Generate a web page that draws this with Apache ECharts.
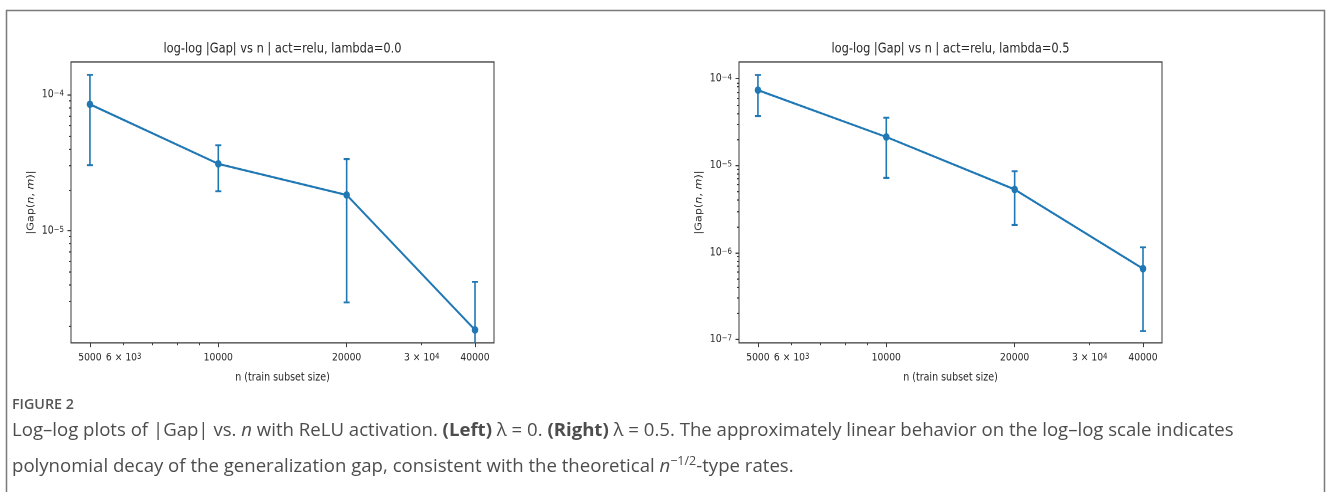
<!DOCTYPE html>
<html><head><meta charset="utf-8">
<script src="https://cdn.jsdelivr.net/npm/echarts@6/dist/echarts.min.js"></script>
<style>
html,body{margin:0;padding:0;background:#fff}
#wrap{position:relative;width:1331px;height:492px;overflow:hidden}
#cap{position:absolute;left:0;top:0;width:1331px;height:492px;z-index:1}
#plots{position:absolute;left:0;top:0;width:1331px;height:333px;z-index:2;transform:scaleY(1.18);transform-origin:0 0}
</style>
</head><body><div id="wrap"><div id="cap"></div><div id="plots"></div></div>
<script>
// ---- data ----
const nValues = [5000, 10000, 20000, 40000];
const leftMean  = [8.5e-5, 3.1e-5, 1.83e-5, 1.86e-6];
const leftUpper = [1.40e-4, 4.25e-5, 3.36e-5, 4.2e-6];
const leftLower = [3.03e-5, 1.95e-5, 2.96e-6, null]; // null: extends below the axis
const rightMean  = [7.36e-5, 2.13e-5, 5.31e-6, 6.52e-7];
const rightUpper = [1.10e-4, 3.55e-5, 8.6e-6, 1.15e-6];
const rightLower = [3.71e-5, 7.23e-6, 2.07e-6, 1.25e-7];

// ---- ticks and labels ----
const xMajorTicks = [5000, 10000, 20000, 40000];
const xMinorTicks = [6000, 7000, 8000, 9000, 30000];
const xLabelValues = [5000, 6000, 10000, 20000, 30000, 40000];
const xLabelTexts  = ['5000', '6 × 10{s|3}', '10000', '20000', '3 × 10{s|4}', '40000'];
const leftYMajor  = [1e-5, 1e-4];
const leftYLabels = ['10{s|−5}', '10{s|−4}'];
const rightYMajor  = [1e-7, 1e-6, 1e-5, 1e-4];
const rightYLabels = ['10{s|−7}', '10{s|−6}', '10{s|−5}', '10{s|−4}'];
const leftYMinor = [2e-6,3e-6,4e-6,5e-6,6e-6,7e-6,8e-6,9e-6,2e-5,3e-5,4e-5,5e-5,6e-5,7e-5,8e-5,9e-5];
const rightYMinor = [2e-7,3e-7,4e-7,5e-7,6e-7,7e-7,8e-7,9e-7,2e-6,3e-6,4e-6,5e-6,6e-6,7e-6,8e-6,9e-6,2e-5,3e-5,4e-5,5e-5,6e-5,7e-5,8e-5,9e-5];

const titles = ['log-log |Gap| vs n | act=relu, lambda=0.0', 'log-log |Gap| vs n | act=relu, lambda=0.5'];
const xName = 'n (train subset size)';
const yName = '|Gap({i|n}, {i|m})|';
const figLabel = 'FIGURE 2';
const captionLines = [
  'Log–log plots of |Gap| vs. {i|n} with ReLU activation. {b|(Left)} λ = 0. {b|(Right)} λ = 0.5. The approximately linear behavior on the log–log scale indicates',
  'polynomial decay of the generalization gap, consistent with the theoretical {i|n}{sup|−1/2}-type rates.'
];

const xMin = 4514, xMax = 44320;
const leftYMin = 1.49e-6, leftYMax = 1.74e-4;
const rightYMin = 9.1e-8, rightYMax = 1.55e-4;

const S = 1.18; // vertical stretch of the figure image
const C = '#1f77b4';
const TXT = '#262626';
const AX = '#3a3a3a';
const FONT = 'DejaVu Sans';

function xLabelFmt(v) {
  const i = xLabelValues.findIndex(t => Math.abs(t - v) / t < 1e-6);
  return i >= 0 ? xLabelTexts[i] : '';
}
function yLabelFmt(major, labels) {
  return function (v) {
    const i = major.findIndex(t => Math.abs(Math.log10(t) - Math.log10(v)) < 1e-6);
    return i >= 0 ? labels[i] : '';
  };
}
const supRich = {s: {fontSize: 7, fontFamily: FONT, color: TXT, verticalAlign: 'top', lineHeight: 7}};

const gridTop = 62 / S, gridH = 281 / S;
const grids = [
  {left: 71, top: gridTop, width: 423, height: gridH},
  {left: 739, top: gridTop, width: 423, height: gridH}
].map(g => Object.assign(g, {show: true, borderColor: AX, borderWidth: 1, backgroundColor: 'transparent'}));

function xAxes(gi) {
  return [
    {type: 'log', logBase: 10, gridIndex: gi, position: 'bottom', min: xMin, max: xMax,
     name: xName, nameLocation: 'middle', nameGap: 24.5,
     nameTextStyle: {fontSize: 9.5, color: TXT, fontFamily: FONT},
     axisLine: {show: false}, splitLine: {show: false},
     axisTick: {show: true, length: 3.5, lineStyle: {color: AX}, customValues: xMajorTicks},
     axisLabel: {show: true, fontSize: 9.2, color: TXT, fontFamily: FONT, margin: 8, customValues: xLabelValues, formatter: xLabelFmt, rich: supRich}},
    {type: 'log', logBase: 10, gridIndex: gi, position: 'bottom', offset: 0, min: xMin, max: xMax,
     axisLine: {show: false}, splitLine: {show: false},
     axisTick: {show: true, length: 2, lineStyle: {color: AX}, customValues: xMinorTicks},
     axisLabel: {show: false}}
  ];
}
function yAxes(gi, mn, mx, major, labels, minor) {
  return [
    {type: 'log', logBase: 10, gridIndex: gi, position: 'left', min: mn, max: mx,
     name: yName, nameLocation: 'middle', nameGap: 35, nameRotate: 90,
     nameTextStyle: {fontSize: 9.5, color: TXT, fontFamily: FONT, rich: {i: {fontStyle: 'italic', fontSize: 9.5, color: TXT, fontFamily: FONT}}},
     axisLine: {show: false}, splitLine: {show: false},
     axisTick: {show: true, length: 3.5, lineStyle: {color: AX}, customValues: major},
     axisLabel: {show: true, fontSize: 9.4, color: TXT, fontFamily: FONT, margin: 7, customValues: major, formatter: yLabelFmt(major, labels), rich: supRich}},
    {type: 'log', logBase: 10, gridIndex: gi, position: 'left', offset: 0, min: mn, max: mx,
     axisLine: {show: false}, splitLine: {show: false},
     axisTick: {show: true, length: 2, lineStyle: {color: AX}, customValues: minor},
     axisLabel: {show: false}}
  ];
}

function errSeries(gi, upper, lower) {
  return {
    type: 'custom', coordinateSystem: 'cartesian2d', xAxisIndex: gi * 2, yAxisIndex: gi * 2, z: 2, clip: true,
    data: nValues.map((n, i) => [n, upper[i]]),
    encode: {x: 0, y: 1},
    renderItem: function (params, api) {
      const i = params.dataIndex;
      const top = api.coord([api.value(0), api.value(1)]);
      const cs = params.coordSys;
      let botY, botCap = true;
      if (lower[i] == null) { botY = cs.y + cs.height; botCap = false; }
      else { botY = api.coord([api.value(0), lower[i]])[1]; }
      const w = 3, st = {stroke: C, lineWidth: 1.6};
      const ch = [
        {type: 'line', shape: {x1: top[0], y1: top[1], x2: top[0], y2: botY}, style: st},
        {type: 'line', shape: {x1: top[0] - w, y1: top[1], x2: top[0] + w, y2: top[1]}, style: st}
      ];
      if (botCap) ch.push({type: 'line', shape: {x1: top[0] - w, y1: botY, x2: top[0] + w, y2: botY}, style: st});
      return {type: 'group', children: ch};
    }
  };
}
function lineSeries(gi, mean) {
  return {
    type: 'line', xAxisIndex: gi * 2, yAxisIndex: gi * 2, z: 3,
    data: nValues.map((n, i) => [n, mean[i]]),
    symbol: 'circle', symbolSize: 6.5, showAllSymbol: true,
    lineStyle: {color: C, width: 1.8}, itemStyle: {color: C}
  };
}

const plots = echarts.init(document.getElementById('plots'), null, {renderer: 'canvas', devicePixelRatio: 2});
plots.setOption({
  animation: false,
  textStyle: {fontFamily: FONT},
  grid: grids,
  xAxis: [...xAxes(0), ...xAxes(1)],
  yAxis: [...yAxes(0, leftYMin, leftYMax, leftYMajor, leftYLabels, leftYMinor),
          ...yAxes(1, rightYMin, rightYMax, rightYMajor, rightYLabels, rightYMinor)],
  series: [errSeries(0, leftUpper, leftLower), lineSeries(0, leftMean),
           errSeries(1, rightUpper, rightLower), lineSeries(1, rightMean)],
  graphic: [
    {type: 'text', x: 282.5, y: 49 / S, style: {text: titles[0], align: 'center', verticalAlign: 'middle', fontSize: 11.4, fontFamily: FONT, fill: TXT}},
    {type: 'text', x: 950.5, y: 49 / S, style: {text: titles[1], align: 'center', verticalAlign: 'middle', fontSize: 11.4, fontFamily: FONT, fill: TXT}}
  ]
});

const CAPF = 'Open Sans', CAPC = '#4d4d4d', CAPS = 18.6;
const captionRich = {
  b: {fontWeight: 'bold', fontFamily: CAPF, fontSize: CAPS, color: CAPC},
  i: {fontStyle: 'italic', fontFamily: CAPF, fontSize: CAPS, color: CAPC},
  sup: {fontFamily: CAPF, fontSize: 12.5, color: CAPC, verticalAlign: 'top', lineHeight: 12}
};
const cap = echarts.init(document.getElementById('cap'), null, {renderer: 'canvas'});
cap.setOption({
  animation: false,
  graphic: [
    {type: 'rect', shape: {x: 6.5, y: 10.5, width: 1318, height: 520}, style: {fill: 'none', stroke: '#7a7a7a', lineWidth: 1.5}, silent: true},
    {type: 'text', x: 12, y: 405, style: {text: figLabel, verticalAlign: 'middle', fontSize: 14.3, fontWeight: 600, fontFamily: CAPF, fill: '#555'}},
    {type: 'text', x: 12, y: 431, style: {text: captionLines[0], rich: captionRich, verticalAlign: 'middle', fontSize: CAPS, fontFamily: CAPF, fill: CAPC, lineHeight: 24}},
    {type: 'text', x: 12, y: 467, style: {text: captionLines[1], rich: captionRich, verticalAlign: 'middle', fontSize: CAPS, fontFamily: CAPF, fill: CAPC, lineHeight: 24}}
  ]
});
</script>
</body></html>
